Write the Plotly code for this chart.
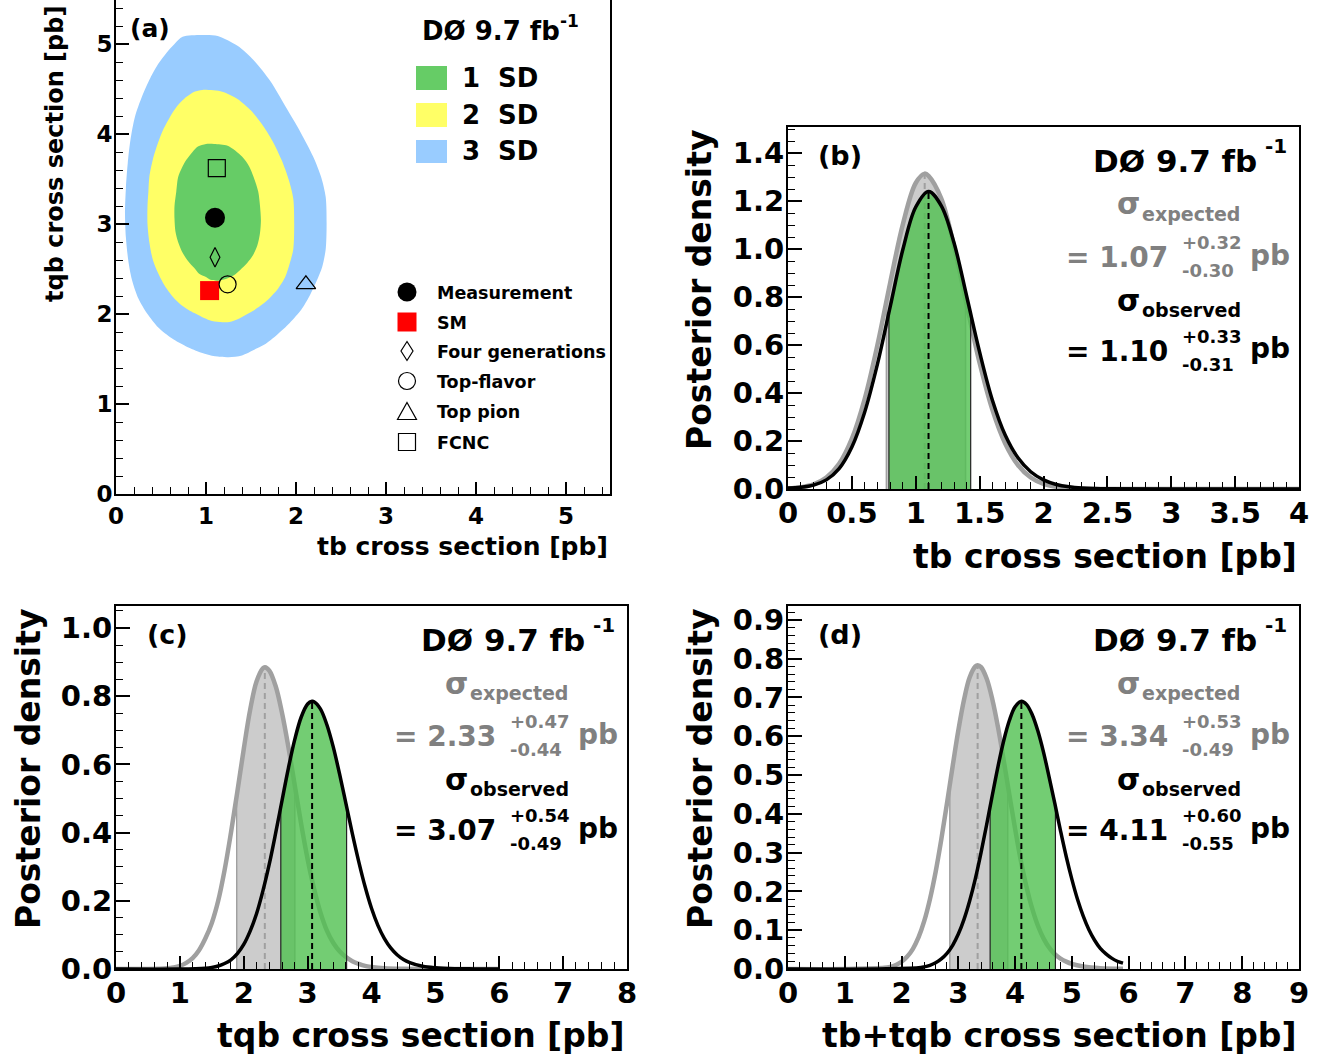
import numpy as np
import plotly.graph_objects as go

W, H = 1332, 1061
FONT = "DejaVu Sans"
GREEN = "#66CC66"
YELLOW = "#FFFF66"
BLUE = "#99CCFF"
GRAY_LINE = "#A0A0A0"
GRAY_FILL = "#CCCCCC"
GRAY_TEXT = "#808080"
BAND_GREEN = "rgba(80,192,80,0.8)"

# ---------------- Panel (a): 2D credibility regions (tb, tqb) [pb] ----------------
sd3_tb = [0.74, 0.95, 1.13, 1.35, 1.53, 1.72, 1.88, 2.05, 2.19, 2.28, 2.33, 2.34, 2.33, 2.29, 2.23,
          2.15, 2.06, 1.93, 1.79, 1.65, 1.53, 1.40, 1.25, 1.10, 0.95, 0.78, 0.62, 0.47, 0.35, 0.25,
          0.18, 0.14, 0.11, 0.10, 0.11, 0.13, 0.16, 0.21, 0.29, 0.38, 0.47, 0.56, 0.65, 0.74]
sd3_tqb = [5.08, 5.10, 5.09, 4.98, 4.82, 4.58, 4.31, 4.02, 3.75, 3.52, 3.30, 3.00, 2.72, 2.52, 2.37,
           2.20, 2.05, 1.90, 1.77, 1.66, 1.60, 1.54, 1.52, 1.53, 1.57, 1.64, 1.73, 1.85, 2.00, 2.17,
           2.37, 2.57, 2.85, 3.12, 3.40, 3.67, 3.93, 4.19, 4.42, 4.62, 4.78, 4.90, 5.00, 5.08]

sd2_tb = [0.96, 1.18, 1.35, 1.50, 1.62, 1.74, 1.84, 1.92, 1.97, 1.98, 1.97, 1.93, 1.88, 1.80, 1.70,
          1.59, 1.48, 1.37, 1.26, 1.15, 1.04, 0.87, 0.74, 0.65, 0.55, 0.47, 0.41, 0.37, 0.35, 0.35,
          0.36, 0.37, 0.41, 0.47, 0.53, 0.60, 0.68, 0.78, 0.87, 0.96]
sd2_tqb = [4.49, 4.47, 4.39, 4.26, 4.11, 3.92, 3.71, 3.49, 3.28, 3.00, 2.72, 2.56, 2.41, 2.28, 2.17,
           2.08, 2.01, 1.95, 1.91, 1.91, 1.93, 2.01, 2.09, 2.17, 2.30, 2.45, 2.60, 2.80, 3.00, 3.20,
           3.36, 3.52, 3.72, 3.91, 4.06, 4.19, 4.31, 4.41, 4.47, 4.49]

sd1_tb = [1.09, 1.24, 1.40, 1.48, 1.53, 1.58, 1.60, 1.61, 1.60, 1.57, 1.52, 1.46, 1.38, 1.31, 1.22,
          1.13, 1.05, 1.00, 0.92, 0.87, 0.80, 0.74, 0.69, 0.66, 0.65, 0.65, 0.67, 0.69, 0.73, 0.78,
          0.85, 0.91, 1.00, 1.09]
sd1_tqb = [3.89, 3.87, 3.75, 3.64, 3.52, 3.36, 3.20, 3.04, 2.90, 2.76, 2.65, 2.57, 2.49, 2.43, 2.39,
           2.37, 2.38, 2.41, 2.45, 2.51, 2.59, 2.68, 2.80, 2.92, 3.06, 3.20, 3.36, 3.52, 3.62, 3.71,
           3.80, 3.86, 3.89, 3.89]

model_names = ["Measurement", "SM", "Four generations", "Top-flavor", "Top pion", "FCNC"]
model_tb = [1.10, 1.04, 1.10, 1.24, 2.11, 1.12]
model_tqb = [3.07, 2.26, 2.63, 2.33, 2.33, 3.62]

# ---------------- Panel (b): tb posterior ----------------
b_x_exp = [0.0, 0.1, 0.2, 0.3, 0.4, 0.5, 0.6, 0.7, 0.8, 0.9, 1.0, 1.07, 1.1, 1.2, 1.3, 1.4, 1.5,
           1.6, 1.7, 1.8, 1.9, 2.0, 2.1, 2.2, 2.3, 2.4, 2.5, 3.0, 4.0]
b_y_exp = [0.002, 0.007, 0.019, 0.048, 0.105, 0.21, 0.375, 0.60, 0.86, 1.105, 1.275, 1.314, 1.305,
           1.21, 1.01, 0.765, 0.525, 0.33, 0.19, 0.10, 0.048, 0.021, 0.009, 0.004, 0.0015, 0.0005,
           0.0, 0.0, 0.0]
b_x_obs = [0.0, 0.1, 0.2, 0.3, 0.4, 0.5, 0.6, 0.7, 0.8, 0.9, 1.0, 1.1, 1.2, 1.3, 1.4, 1.5, 1.6,
           1.7, 1.8, 1.9, 2.0, 2.1, 2.2, 2.3, 2.4, 2.5, 3.0, 4.0]
b_y_obs = [0.004, 0.007, 0.016, 0.038, 0.085, 0.175, 0.32, 0.52, 0.76, 1.0, 1.175, 1.24, 1.18,
           1.025, 0.80, 0.57, 0.37, 0.225, 0.13, 0.072, 0.038, 0.019, 0.009, 0.004, 0.002, 0.001,
           0.0, 0.0]
b_exp = [1.07, 0.30, 0.32]   # mode, -err, +err
b_obs = [1.10, 0.31, 0.33]

# ---------------- Panel (c): tqb posterior ----------------
c_x_exp = [0.0, 0.5, 0.8, 0.9, 1.0, 1.1, 1.2, 1.3, 1.4, 1.5, 1.6, 1.7, 1.8, 1.9, 2.0, 2.1, 2.2,
           2.3, 2.33, 2.4, 2.5, 2.6, 2.7, 2.8, 2.9, 3.0, 3.1, 3.2, 3.3, 3.4, 3.5, 3.6, 3.7, 3.8,
           3.9, 4.0, 4.2, 4.5, 5.0, 6.0]
c_y_exp = [0.0, 0.0, 0.002, 0.0045, 0.009, 0.018, 0.032, 0.055, 0.09, 0.135, 0.2, 0.29, 0.40,
           0.52, 0.645, 0.76, 0.843, 0.882, 0.885, 0.875, 0.829, 0.750, 0.650, 0.537, 0.424,
           0.322, 0.236, 0.166, 0.113, 0.077, 0.052, 0.035, 0.023, 0.015, 0.009, 0.006, 0.0025,
           0.0008, 0.0002, 0.0]
c_x_obs = [0.0, 1.0, 1.4, 1.5, 1.6, 1.7, 1.8, 1.9, 2.0, 2.1, 2.2, 2.3, 2.4, 2.5, 2.6, 2.7, 2.8,
           2.9, 3.0, 3.07, 3.1, 3.2, 3.3, 3.4, 3.5, 3.6, 3.7, 3.8, 3.9, 4.0, 4.1, 4.2, 4.3, 4.4,
           4.5, 4.6, 4.8, 5.0, 5.3, 5.6, 6.0]
c_y_obs = [0.0, 0.0, 0.0024, 0.0046, 0.0087, 0.016, 0.027, 0.045, 0.072, 0.111, 0.162, 0.229,
           0.308, 0.399, 0.495, 0.590, 0.674, 0.739, 0.777, 0.785, 0.784, 0.763, 0.717, 0.652,
           0.572, 0.485, 0.397, 0.315, 0.241, 0.178, 0.128, 0.090, 0.062, 0.042, 0.028, 0.019,
           0.008, 0.0035, 0.001, 0.0003, 0.0]
c_exp = [2.33, 0.44, 0.47]
c_obs = [3.07, 0.49, 0.54]

# ---------------- Panel (d): tb+tqb posterior ----------------
d_x_exp = [0.0, 1.0, 1.7, 1.8, 1.9, 2.0, 2.1, 2.2, 2.3, 2.4, 2.5, 2.6, 2.7, 2.8, 2.9, 3.0, 3.1,
           3.2, 3.3, 3.34, 3.4, 3.5, 3.6, 3.7, 3.8, 3.9, 4.0, 4.1, 4.2, 4.3, 4.4, 4.5, 4.6, 4.7,
           4.8, 4.9, 5.0, 5.2, 5.5, 5.9]
d_y_exp = [0.0, 0.0, 0.003, 0.0056, 0.0104, 0.0186, 0.032, 0.052, 0.082, 0.124, 0.180, 0.250,
           0.334, 0.427, 0.523, 0.615, 0.694, 0.752, 0.780, 0.783, 0.778, 0.748, 0.694, 0.622,
           0.537, 0.448, 0.361, 0.280, 0.212, 0.156, 0.112, 0.079, 0.055, 0.038, 0.027, 0.019,
           0.013, 0.0065, 0.002, 0.0005]
d_x_obs = [0.0, 1.5, 2.3, 2.4, 2.5, 2.6, 2.7, 2.8, 2.9, 3.0, 3.1, 3.2, 3.3, 3.4, 3.5, 3.6, 3.7,
           3.8, 3.9, 4.0, 4.11, 4.2, 4.3, 4.4, 4.5, 4.6, 4.7, 4.8, 4.9, 5.0, 5.1, 5.2, 5.3, 5.4,
           5.5, 5.6, 5.7, 5.8, 5.9]
d_y_obs = [0.0, 0.0, 0.003, 0.0055, 0.0095, 0.016, 0.026, 0.0405, 0.061, 0.090, 0.128, 0.176,
           0.233, 0.300, 0.373, 0.449, 0.523, 0.589, 0.641, 0.676, 0.690, 0.682, 0.656, 0.614,
           0.559, 0.494, 0.426, 0.356, 0.290, 0.231, 0.179, 0.136, 0.101, 0.074, 0.053, 0.039,
           0.028, 0.020, 0.015]
d_exp = [3.34, 0.49, 0.53]
d_obs = [4.11, 0.55, 0.60]


def X(px):
    return px / W


def Y(py):
    return 1 - py / H


fig = go.Figure()
annotations = []
shapes = []


def text(t, px, py, size, color="black", xa="center", ya="middle", angle=0):
    annotations.append(dict(text=t, x=X(px), y=Y(py), xref="paper", yref="paper",
                            xanchor=xa, yanchor=ya, showarrow=False, textangle=angle,
                            font=dict(family=FONT, size=size, color=color, weight="bold")))


# ---------------- Panel (a) traces ----------------
for xs, ys, col in [(sd3_tb, sd3_tqb, BLUE), (sd2_tb, sd2_tqb, YELLOW), (sd1_tb, sd1_tqb, GREEN)]:
    fig.add_trace(go.Scatter(x=xs, y=ys, mode="lines", fill="toself", fillcolor=col,
                             line=dict(width=0, shape="spline", smoothing=0.8),
                             xaxis="x", yaxis="y", hoverinfo="skip"))

msty = [dict(symbol="circle", size=20, color="black"),
        dict(symbol="square", size=19, color="red"),
        dict(symbol="diamond-tall-open", size=14, color="black", line=dict(width=1.2, color="black")),
        dict(symbol="circle-open", size=17, color="black", line=dict(width=1.2, color="black")),
        dict(symbol="triangle-up-open", size=17, color="black", line=dict(width=1.2, color="black")),
        dict(symbol="square-open", size=17, color="black", line=dict(width=1.2, color="black"))]
for i, name in enumerate(model_names):
    fig.add_trace(go.Scatter(x=[model_tb[i]], y=[model_tqb[i]], mode="markers", name=name,
                             marker=msty[i], xaxis="x", yaxis="y"))

# Panel (a) texts and legends
text("(a)", 150, 28, 25)
text("DØ 9.7 fb", 420, 31, 26, xa="left")
text("-1", 558, 21, 17, xa="left")
sd_rows = [("1", GREEN, 66, 90), ("2", YELLOW, 103, 127), ("3", BLUE, 140, 163)]
for lab, col, t0, t1 in sd_rows:
    shapes.append(dict(type="rect", xref="paper", yref="paper", x0=X(416), x1=X(447),
                       y0=Y(t1), y1=Y(t0), fillcolor=col, line=dict(width=0)))
    text(lab, 460, (t0 + t1) / 2, 26, xa="left")
    text("SD", 496, (t0 + t1) / 2, 26, xa="left")

leg_y = [292, 322, 351, 381, 411, 442]
cx = 407
shapes.append(dict(type="circle", xref="paper", yref="paper", x0=X(cx - 9.5), x1=X(cx + 9.5),
                   y0=Y(leg_y[0] + 9.5), y1=Y(leg_y[0] - 9.5), fillcolor="black", line=dict(width=0)))
shapes.append(dict(type="rect", xref="paper", yref="paper", x0=X(cx - 9.5), x1=X(cx + 9.5),
                   y0=Y(leg_y[1] + 9.5), y1=Y(leg_y[1] - 9.5), fillcolor="red", line=dict(width=0)))
yy = leg_y[2]
shapes.append(dict(type="path", xref="paper", yref="paper",
                   path=f"M {X(cx)},{Y(yy - 9.5)} L {X(cx + 6)},{Y(yy)} L {X(cx)},{Y(yy + 9.5)} L {X(cx - 6)},{Y(yy)} Z",
                   line=dict(color="black", width=1.2)))
shapes.append(dict(type="circle", xref="paper", yref="paper", x0=X(cx - 8.5), x1=X(cx + 8.5),
                   y0=Y(leg_y[3] + 8.5), y1=Y(leg_y[3] - 8.5), line=dict(color="black", width=1.2)))
yy = leg_y[4]
shapes.append(dict(type="path", xref="paper", yref="paper",
                   path=f"M {X(cx)},{Y(yy - 8.5)} L {X(cx + 9.5)},{Y(yy + 8.5)} L {X(cx - 9.5)},{Y(yy + 8.5)} Z",
                   line=dict(color="black", width=1.2)))
shapes.append(dict(type="rect", xref="paper", yref="paper", x0=X(cx - 8.5), x1=X(cx + 8.5),
                   y0=Y(leg_y[5] + 8.5), y1=Y(leg_y[5] - 8.5), line=dict(color="black", width=1.2)))
for name, ly in zip(model_names, leg_y):
    text(name, 435, ly + 1, 17.5, xa="left")

text("tb cross section [pb]", 610, 546, 25, xa="right")
text("tqb cross section [pb]", 55, 154, 24, angle=-90)


# ---------------- Posterior panels ----------------
def band(xs, ys, lo, hi):
    xs = np.asarray(xs, dtype=float)
    ys = np.asarray(ys, dtype=float)
    inner = (xs > lo) & (xs < hi)
    flo = float(np.interp(lo, xs, ys))
    fhi = float(np.interp(hi, xs, ys))
    bx = [lo, lo] + list(xs[inner]) + [hi, hi]
    by = [0.0, flo] + list(ys[inner]) + [fhi, 0.0]
    return bx, by, flo, fhi


def posterior_panel(xa, ya, x_exp, y_exp, exp, x_obs, y_obs, obs):
    lo, hi = exp[0] - exp[1], exp[0] + exp[2]
    bx, by, flo, fhi = band(x_exp, y_exp, lo, hi)
    fig.add_trace(go.Scatter(x=bx, y=by, mode="lines", fill="toself", fillcolor=GRAY_FILL,
                             line=dict(width=0), xaxis=xa, yaxis=ya, hoverinfo="skip"))
    fig.add_trace(go.Scatter(x=[lo, lo, None, hi, hi], y=[0, flo, None, 0, fhi], mode="lines",
                             line=dict(color=GRAY_LINE, width=1.5), xaxis=xa, yaxis=ya, hoverinfo="skip"))
    fig.add_trace(go.Scatter(x=x_exp, y=y_exp, mode="lines",
                             line=dict(color=GRAY_LINE, width=4.5, shape="spline", smoothing=1.0),
                             xaxis=xa, yaxis=ya, hoverinfo="skip"))
    pk = float(np.interp(exp[0], x_exp, y_exp))
    fig.add_trace(go.Scatter(x=[exp[0], exp[0]], y=[0, pk], mode="lines",
                             line=dict(color=GRAY_LINE, width=2, dash="6px,4px"),
                             xaxis=xa, yaxis=ya, hoverinfo="skip"))
    lo, hi = obs[0] - obs[1], obs[0] + obs[2]
    bx, by, flo, fhi = band(x_obs, y_obs, lo, hi)
    fig.add_trace(go.Scatter(x=bx, y=by, mode="lines", fill="toself", fillcolor=BAND_GREEN,
                             line=dict(width=0), xaxis=xa, yaxis=ya, hoverinfo="skip"))
    fig.add_trace(go.Scatter(x=[lo, lo, None, hi, hi], y=[0, flo, None, 0, fhi], mode="lines",
                             line=dict(color="#222222", width=1.2), xaxis=xa, yaxis=ya, hoverinfo="skip"))
    fig.add_trace(go.Scatter(x=x_obs, y=y_obs, mode="lines",
                             line=dict(color="black", width=3.5, shape="spline", smoothing=1.0),
                             xaxis=xa, yaxis=ya, hoverinfo="skip"))
    pk = float(np.interp(obs[0], x_obs, y_obs))
    fig.add_trace(go.Scatter(x=[obs[0], obs[0]], y=[0, pk], mode="lines",
                             line=dict(color="black", width=2, dash="6px,4px"),
                             xaxis=xa, yaxis=ya, hoverinfo="skip"))


def panel_texts(ox, oy, label, exp, obs, xtitle):
    text(label, ox + 52, oy + 28, 27)
    text("DØ 9.7 fb", ox + 471, oy + 34, 31, xa="right")
    text("-1", ox + 475, oy + 19, 20, xa="left")
    for vals, col, dy, dv, word in [(exp, GRAY_TEXT, 0, 0, "expected"),
                                    (obs, "black", 96, 94, "observed")]:
        text("σ", ox + 340, oy + 77 + dy, 30, color=col)
        text(word, ox + 352, oy + 87 + dy, 19, color=col, xa="left")
        text(f"= {vals[0]:.2f}", ox + 382, oy + 130 + dv, 28, color=col, xa="right")
        text(f"+{vals[2]:.2f}", ox + 392, oy + 115 + dv, 18, color=col, xa="left")
        text(f"-{vals[1]:.2f}", ox + 392, oy + 143 + dv, 18, color=col, xa="left")
        text("pb", ox + 460, oy + 128 + dv, 28, color=col, xa="left")
    text("Posterior density", ox - 88, oy + 163, 33, angle=-90)
    text(xtitle, ox + 511, oy + 429, 33, xa="right")


posterior_panel("x2", "y2", b_x_exp, b_y_exp, b_exp, b_x_obs, b_y_obs, b_obs)
posterior_panel("x3", "y3", c_x_exp, c_y_exp, c_exp, c_x_obs, c_y_obs, c_obs)
posterior_panel("x4", "y4", d_x_exp, d_y_exp, d_exp, d_x_obs, d_y_obs, d_obs)

panel_texts(788, 127, "(b)", b_exp, b_obs, "tb cross section [pb]")
panel_texts(116, 606, "(c)", c_exp, c_obs, "tqb cross section [pb]")
panel_texts(788, 606, "(d)", d_exp, d_obs, "tb+tqb cross section [pb]")


def axis(rng, dom, dtick, mdtick, size, tlen, mlen, anchor, fmt=None, mirror=True, standoff=0):
    d = dict(range=rng, domain=dom, dtick=dtick, tick0=0, showline=True, linecolor="black",
             linewidth=2, mirror=mirror, ticks="inside", ticklen=tlen, tickwidth=1.5,
             tickcolor="black", showgrid=False, zeroline=False, anchor=anchor, fixedrange=True,
             automargin=False, ticklabelstandoff=standoff,
             tickfont=dict(family=FONT, size=size, color="black", weight="bold"),
             minor=dict(dtick=mdtick, tick0=0, ticks="inside", ticklen=mlen, tickwidth=1,
                        tickcolor="black", showgrid=False))
    if fmt:
        d["tickformat"] = fmt
    return d


dxa = [X(116), X(610)]
dya = [Y(494), 1.0]
dxb = [X(788), X(1299)]
dyb = [Y(489), Y(127)]
dxc = [X(116), X(627)]
dyc = [Y(969), Y(606)]
dxd = [X(788), X(1299)]
dyd = [Y(969), Y(606)]

fig.update_layout(
    width=W, height=H, margin=dict(l=0, r=0, t=0, b=0, pad=0, autoexpand=False),
    paper_bgcolor="white", plot_bgcolor="rgba(0,0,0,0)", showlegend=False,
    xaxis=axis([0, 494 / 90], dxa, 1, 0.2, 23, 12, 7, "y", mirror=False),
    yaxis=axis([0, 494 / 90], dya, 1, 0.2, 23, 13, 7, "x", standoff=-3),
    xaxis2=axis([0, 4], dxb, 0.5, 0.1, 29, 13, 7, "y2", standoff=-3),
    yaxis2=axis([0, 362 / 240], dyb, 0.2, 0.05, 29, 14, 7, "x2", fmt=".1f", standoff=-4),
    xaxis3=axis([0, 8], dxc, 1, 0.2, 29, 13, 7, "y3", standoff=-3),
    yaxis3=axis([0, 363 / 341], dyc, 0.2, 0.05, 29, 14, 7, "x3", fmt=".1f", standoff=-4),
    xaxis4=axis([0, 9], dxd, 1, 0.2, 29, 13, 7, "y4", standoff=-3),
    yaxis4=axis([0, 363 / 388], dyd, 0.1, 0.02, 29, 14, 7, "x4", fmt=".1f", standoff=-4),
    annotations=annotations, shapes=shapes,
)

fig.write_html("out.html", post_script="document.body.style.margin='0px';",
               config={"displayModeBar": False})
